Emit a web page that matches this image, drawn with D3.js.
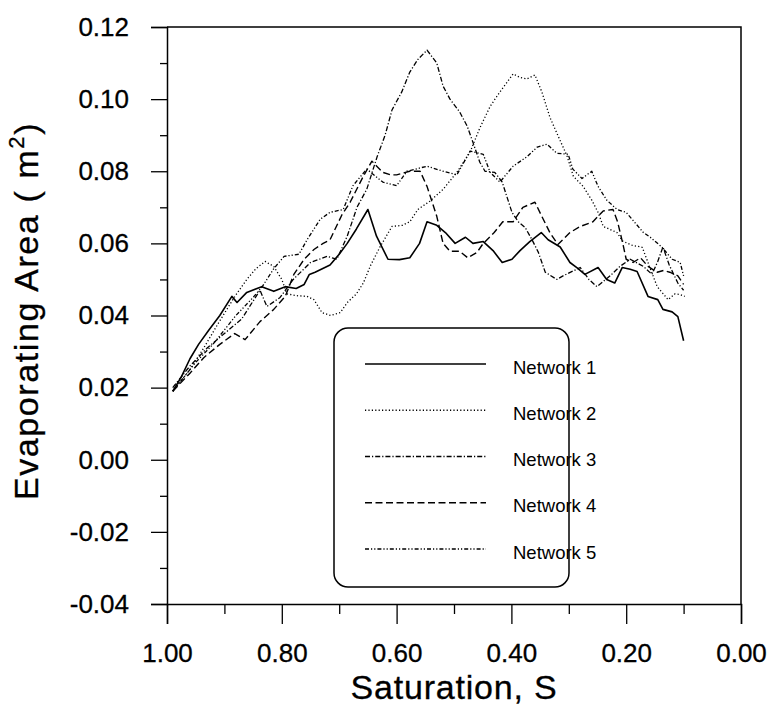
<!DOCTYPE html>
<html>
<head>
<meta charset="utf-8">
<script src="https://cdn.jsdelivr.net/npm/d3@7"></script>
<style>
  html, body { margin: 0; padding: 0; background: #fff; }
  svg { display: block; }
  text { font-family: "Liberation Sans", Arial, sans-serif; fill: #000; }
</style>
</head>
<body>
<svg id="chart" width="772" height="708"></svg>
<script>
// ---- data (Saturation S, Evaporating Area m^2) ----
const seriesNames = ["Network 1", "Network 2", "Network 3", "Network 4", "Network 5"];

const network1 = [[0.99,0.019],[0.975,0.023],[0.96,0.028],[0.945,0.032],[0.927,0.036],[0.908,0.040],[0.887,0.0453],[0.878,0.0436],[0.861,0.0464],[0.835,0.048],[0.814,0.0467],[0.794,0.048],[0.775,0.0475],[0.761,0.0486],[0.752,0.0514],[0.742,0.052],[0.716,0.054],[0.70,0.057],[0.686,0.060],[0.67,0.064],[0.65,0.0694],[0.635,0.062],[0.615,0.0556],[0.595,0.0555],[0.577,0.056],[0.56,0.060],[0.547,0.066],[0.53,0.065],[0.515,0.063],[0.498,0.060],[0.48,0.0617],[0.467,0.060],[0.449,0.0605],[0.432,0.058],[0.416,0.0547],[0.399,0.0556],[0.385,0.058],[0.368,0.0605],[0.348,0.063],[0.336,0.061],[0.315,0.059],[0.298,0.0547],[0.286,0.0533],[0.272,0.0514],[0.249,0.0533],[0.234,0.050],[0.22,0.049],[0.207,0.0533],[0.193,0.0528],[0.181,0.0522],[0.162,0.0453],[0.145,0.0444],[0.136,0.0417],[0.12,0.041],[0.11,0.0397],[0.10,0.033]];

const network2 = [[0.99,0.019],[0.96,0.025],[0.936,0.031],[0.91,0.038],[0.883,0.045],[0.861,0.050],[0.845,0.053],[0.829,0.055],[0.814,0.0536],[0.80,0.050],[0.791,0.046],[0.775,0.0455],[0.756,0.0453],[0.744,0.0444],[0.73,0.0408],[0.715,0.040],[0.698,0.0408],[0.686,0.0436],[0.67,0.046],[0.658,0.049],[0.645,0.054],[0.629,0.059],[0.608,0.0647],[0.59,0.065],[0.577,0.066],[0.563,0.0694],[0.542,0.0717],[0.519,0.075],[0.495,0.0797],[0.472,0.0853],[0.455,0.092],[0.437,0.098],[0.42,0.102],[0.397,0.107],[0.385,0.106],[0.373,0.1056],[0.359,0.1067],[0.347,0.102],[0.333,0.095],[0.324,0.0917],[0.303,0.0842],[0.292,0.0786],[0.275,0.0758],[0.26,0.072],[0.249,0.0686],[0.24,0.0647],[0.216,0.063],[0.206,0.0606],[0.19,0.0595],[0.172,0.0589],[0.158,0.053],[0.146,0.048],[0.127,0.0444],[0.115,0.046],[0.106,0.0458],[0.098,0.0453]];

const network3 = [[0.99,0.02],[0.96,0.026],[0.93,0.031],[0.90,0.035],[0.87,0.039],[0.85,0.044],[0.838,0.047],[0.826,0.0425],[0.803,0.045],[0.78,0.050],[0.75,0.0547],[0.721,0.0564],[0.704,0.0556],[0.686,0.062],[0.669,0.070],[0.652,0.075],[0.634,0.084],[0.62,0.090],[0.608,0.097],[0.591,0.102],[0.577,0.1075],[0.563,0.111],[0.547,0.1136],[0.53,0.110],[0.519,0.1036],[0.507,0.100],[0.49,0.0964],[0.477,0.0925],[0.467,0.088],[0.455,0.0825],[0.446,0.080],[0.429,0.0797],[0.416,0.077],[0.41,0.074],[0.399,0.0686],[0.388,0.066],[0.376,0.0644],[0.364,0.061],[0.353,0.0575],[0.341,0.052],[0.321,0.050],[0.31,0.051],[0.28,0.0533],[0.265,0.050],[0.251,0.048],[0.228,0.051],[0.211,0.0536],[0.193,0.0556],[0.17,0.0536],[0.155,0.0514],[0.145,0.055],[0.136,0.059],[0.125,0.054],[0.11,0.049],[0.10,0.047]];

const network4 = [[0.99,0.019],[0.96,0.024],[0.936,0.0283],[0.908,0.032],[0.882,0.035],[0.864,0.0333],[0.838,0.0383],[0.814,0.0417],[0.794,0.0453],[0.779,0.0514],[0.761,0.0556],[0.744,0.0583],[0.728,0.060],[0.716,0.061],[0.695,0.068],[0.681,0.0714],[0.658,0.0786],[0.643,0.0828],[0.624,0.0797],[0.61,0.079],[0.6,0.079],[0.577,0.080],[0.559,0.080],[0.547,0.0758],[0.53,0.0675],[0.519,0.060],[0.507,0.0578],[0.49,0.0578],[0.476,0.056],[0.46,0.0575],[0.449,0.060],[0.43,0.063],[0.415,0.066],[0.397,0.066],[0.38,0.070],[0.359,0.0714],[0.347,0.0675],[0.333,0.063],[0.319,0.0597],[0.298,0.063],[0.28,0.0647],[0.258,0.066],[0.24,0.069],[0.223,0.0694],[0.215,0.066],[0.206,0.060],[0.2,0.0556],[0.188,0.0547],[0.175,0.056],[0.162,0.0536],[0.146,0.052],[0.135,0.0525],[0.124,0.052],[0.11,0.051],[0.10,0.0486]];

const network5 = [[0.99,0.019],[0.95,0.027],[0.92,0.032],[0.90,0.036],[0.88,0.040],[0.85,0.045],[0.834,0.048],[0.814,0.053],[0.796,0.0564],[0.77,0.057],[0.756,0.061],[0.733,0.0667],[0.716,0.0686],[0.693,0.0694],[0.676,0.076],[0.652,0.0806],[0.624,0.077],[0.60,0.076],[0.582,0.080],[0.547,0.0814],[0.519,0.080],[0.495,0.079],[0.472,0.0856],[0.449,0.0847],[0.437,0.0797],[0.42,0.077],[0.397,0.0814],[0.373,0.084],[0.355,0.0867],[0.338,0.0875],[0.321,0.085],[0.301,0.0847],[0.293,0.0806],[0.277,0.078],[0.26,0.080],[0.249,0.0758],[0.234,0.072],[0.216,0.0694],[0.2,0.0686],[0.17,0.063],[0.158,0.0617],[0.138,0.059],[0.12,0.0556],[0.106,0.0547],[0.10,0.051]];

const xMajorTicks = [1.0, 0.8, 0.6, 0.4, 0.2, 0.0];
const xMinorTicks = [0.9, 0.7, 0.5, 0.3, 0.1];
const yMajorTicks = [-0.04, -0.02, 0.00, 0.02, 0.04, 0.06, 0.08, 0.10, 0.12];
const yMinorTicks = [-0.03, -0.01, 0.01, 0.03, 0.05, 0.07, 0.09, 0.11];

// ---- chart ----
const svg = d3.select("#chart");
const L = 167, R = 741, T = 27, B = 604;
const x = d3.scaleLinear().domain([1, 0]).range([L, R]);
const y = d3.scaleLinear().domain([-0.04, 0.12]).range([B, T]);
const fmt = d => d.toFixed(2);

// frame (top & right)
svg.append("path")
  .attr("d", `M${L},${T}H${R}V${B}`)
  .attr("fill", "none").attr("stroke", "#000").attr("stroke-width", 1.5);

// x axis
svg.append("g").attr("transform", `translate(0,${B})`)
  .call(d3.axisBottom(x).tickValues(xMajorTicks).tickSize(20).tickPadding(20).tickFormat(fmt));
svg.append("g").attr("transform", `translate(0,${B})`)
  .call(d3.axisBottom(x).tickValues(xMinorTicks).tickSize(10).tickFormat(""))
  .select(".domain").remove();

// y axis
svg.append("g").attr("transform", `translate(${L},0)`)
  .call(d3.axisLeft(y).tickValues(yMajorTicks).tickSize(16).tickPadding(22).tickFormat(fmt));
svg.append("g").attr("transform", `translate(${L},0)`)
  .call(d3.axisLeft(y).tickValues(yMinorTicks).tickSize(7).tickFormat(""))
  .select(".domain").remove();

svg.selectAll(".domain").attr("stroke-width", 1.5);
svg.selectAll(".tick line").attr("stroke-width", 1.3);
svg.selectAll(".tick text")
  .attr("font-family", "'Liberation Sans', Arial, sans-serif")
  .attr("font-size", 26)
  .attr("stroke", "#000").attr("stroke-width", 0.3);

// axis titles
svg.append("text")
  .attr("x", (L + R) / 2).attr("y", 699)
  .attr("text-anchor", "middle")
  .attr("font-size", 34).attr("letter-spacing", 0.8)
  .attr("stroke", "#000").attr("stroke-width", 0.3)
  .text("Saturation, S");

const yt = svg.append("text")
  .attr("transform", "translate(38,311) rotate(-90)")
  .attr("text-anchor", "middle")
  .attr("font-size", 34).attr("letter-spacing", 1.6)
  .attr("stroke", "#000").attr("stroke-width", 0.3);
yt.append("tspan").text("Evaporating Area ( m");
yt.append("tspan").attr("font-size", 22).attr("dy", -14).text("2");
yt.append("tspan").attr("dy", 14).text(")");

// lines
const seriesData = [network1, network2, network3, network4, network5];
const dashes = [null, "1.2,2.2", "5,2,1.2,2", "7,3.5", "4,2,1.2,2,1.2,2"];
const widths = [1.6, 1.3, 1.3, 1.4, 1.3];
const line = d3.line().x(d => x(d[0])).y(d => y(d[1]));

seriesData.forEach((data, i) => {
  svg.append("path")
    .datum(data)
    .attr("d", line)
    .attr("fill", "none")
    .attr("stroke", "#000")
    .attr("stroke-width", widths[i])
    .attr("stroke-linejoin", "round")
    .attr("stroke-dasharray", dashes[i]);
});

// legend
const lg = svg.append("g");
lg.append("rect")
  .attr("x", 334).attr("y", 328).attr("width", 235).attr("height", 259)
  .attr("rx", 14).attr("ry", 14)
  .attr("fill", "#fff").attr("stroke", "#000").attr("stroke-width", 1.5);
const rowY = d3.scalePoint().domain(seriesNames).range([367, 552]);
seriesNames.forEach((name, i) => {
  const cy = rowY(name);
  lg.append("line")
    .attr("x1", 365).attr("x2", 486)
    .attr("y1", cy - 3).attr("y2", cy - 3)
    .attr("stroke", "#000").attr("stroke-width", widths[i])
    .attr("stroke-dasharray", dashes[i]);
  lg.append("text")
    .attr("x", 513).attr("y", cy).attr("dy", "0.36em")
    .attr("font-size", 18.5)
    .text(name);
});
</script>
</body>
</html>
